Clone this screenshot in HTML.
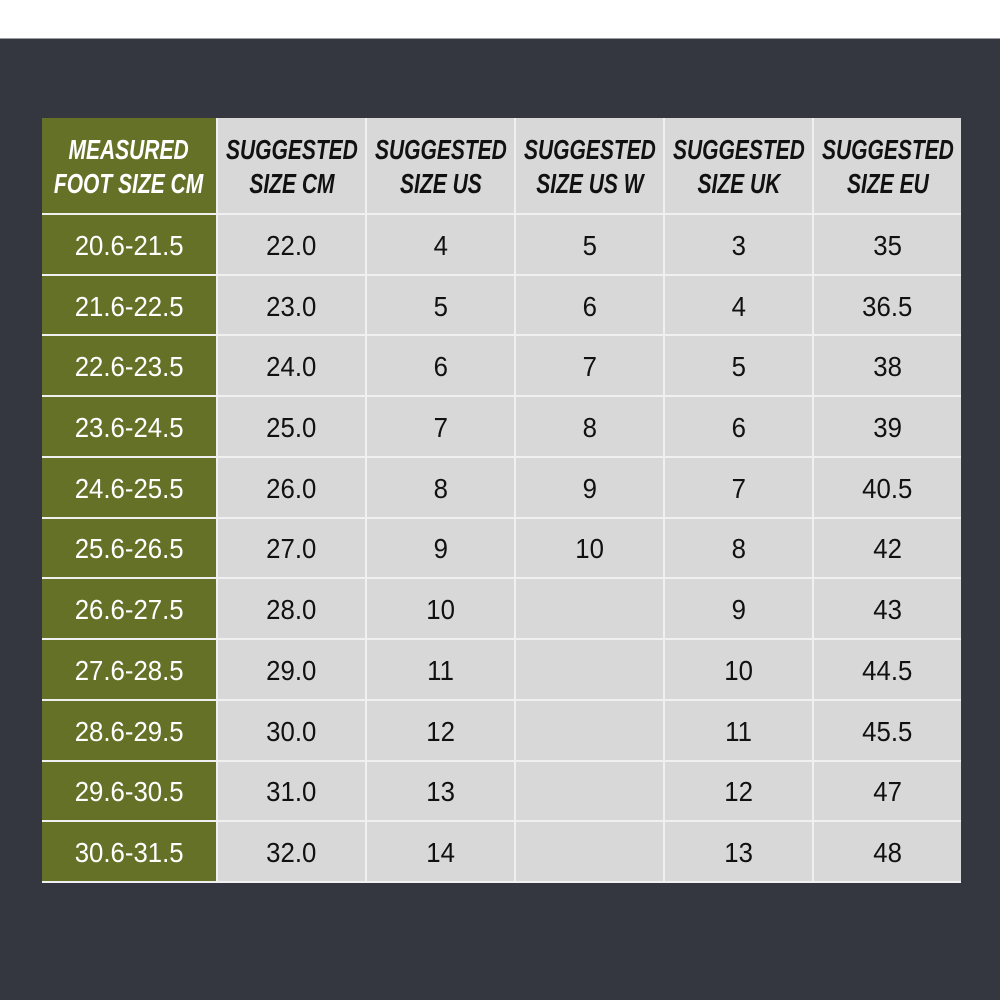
<!DOCTYPE html>
<html>
<head>
<meta charset="utf-8">
<style>
  html,body{margin:0;padding:0;}
  body{width:1000px;height:1000px;position:relative;background:#ffffff;overflow:hidden;font-family:"Liberation Sans",sans-serif;}
  .dark{position:absolute;left:0;top:38px;width:1000px;height:962px;background:#343740;border-top:1px solid #9a9ca0;box-sizing:border-box;}
  .tbl{position:absolute;left:42px;top:118px;width:919px;height:765px;background:#f0f0f0;
       display:grid;grid-template-columns:174px 147px 147px 147px 147px 147px;
       grid-template-rows:95px repeat(11,1fr);column-gap:2px;row-gap:2px;padding-bottom:2px;box-sizing:border-box;}
  .c{background:#d8d8d8;display:flex;align-items:center;justify-content:center;color:#111111;font-size:28px;white-space:nowrap;padding-top:3px;box-sizing:border-box;}
  .g{background:#667128;color:#ffffff;}
  .c span{display:inline-block;transform:scaleX(0.92);}
  .h span{transform:scaleX(0.75);font-weight:bold;font-style:italic;line-height:34px;text-align:center;}
  .h{padding-top:2px;}
</style>
</head>
<body>
<div class="dark"></div>
<div class="tbl">
  <div class="c g h"><span>MEASURED<br>FOOT SIZE CM</span></div>
  <div class="c h"><span>SUGGESTED<br>SIZE CM</span></div>
  <div class="c h"><span>SUGGESTED<br>SIZE US</span></div>
  <div class="c h"><span>SUGGESTED<br>SIZE US W</span></div>
  <div class="c h"><span>SUGGESTED<br>SIZE UK</span></div>
  <div class="c h"><span>SUGGESTED<br>SIZE EU</span></div>

  <div class="c g"><span>20.6-21.5</span></div><div class="c"><span>22.0</span></div><div class="c"><span>4</span></div><div class="c"><span>5</span></div><div class="c"><span>3</span></div><div class="c"><span>35</span></div>
  <div class="c g"><span>21.6-22.5</span></div><div class="c"><span>23.0</span></div><div class="c"><span>5</span></div><div class="c"><span>6</span></div><div class="c"><span>4</span></div><div class="c"><span>36.5</span></div>
  <div class="c g"><span>22.6-23.5</span></div><div class="c"><span>24.0</span></div><div class="c"><span>6</span></div><div class="c"><span>7</span></div><div class="c"><span>5</span></div><div class="c"><span>38</span></div>
  <div class="c g"><span>23.6-24.5</span></div><div class="c"><span>25.0</span></div><div class="c"><span>7</span></div><div class="c"><span>8</span></div><div class="c"><span>6</span></div><div class="c"><span>39</span></div>
  <div class="c g"><span>24.6-25.5</span></div><div class="c"><span>26.0</span></div><div class="c"><span>8</span></div><div class="c"><span>9</span></div><div class="c"><span>7</span></div><div class="c"><span>40.5</span></div>
  <div class="c g"><span>25.6-26.5</span></div><div class="c"><span>27.0</span></div><div class="c"><span>9</span></div><div class="c"><span>10</span></div><div class="c"><span>8</span></div><div class="c"><span>42</span></div>
  <div class="c g"><span>26.6-27.5</span></div><div class="c"><span>28.0</span></div><div class="c"><span>10</span></div><div class="c"><span></span></div><div class="c"><span>9</span></div><div class="c"><span>43</span></div>
  <div class="c g"><span>27.6-28.5</span></div><div class="c"><span>29.0</span></div><div class="c"><span>11</span></div><div class="c"><span></span></div><div class="c"><span>10</span></div><div class="c"><span>44.5</span></div>
  <div class="c g"><span>28.6-29.5</span></div><div class="c"><span>30.0</span></div><div class="c"><span>12</span></div><div class="c"><span></span></div><div class="c"><span>11</span></div><div class="c"><span>45.5</span></div>
  <div class="c g"><span>29.6-30.5</span></div><div class="c"><span>31.0</span></div><div class="c"><span>13</span></div><div class="c"><span></span></div><div class="c"><span>12</span></div><div class="c"><span>47</span></div>
  <div class="c g"><span>30.6-31.5</span></div><div class="c"><span>32.0</span></div><div class="c"><span>14</span></div><div class="c"><span></span></div><div class="c"><span>13</span></div><div class="c"><span>48</span></div>
</div>
</body>
</html>
